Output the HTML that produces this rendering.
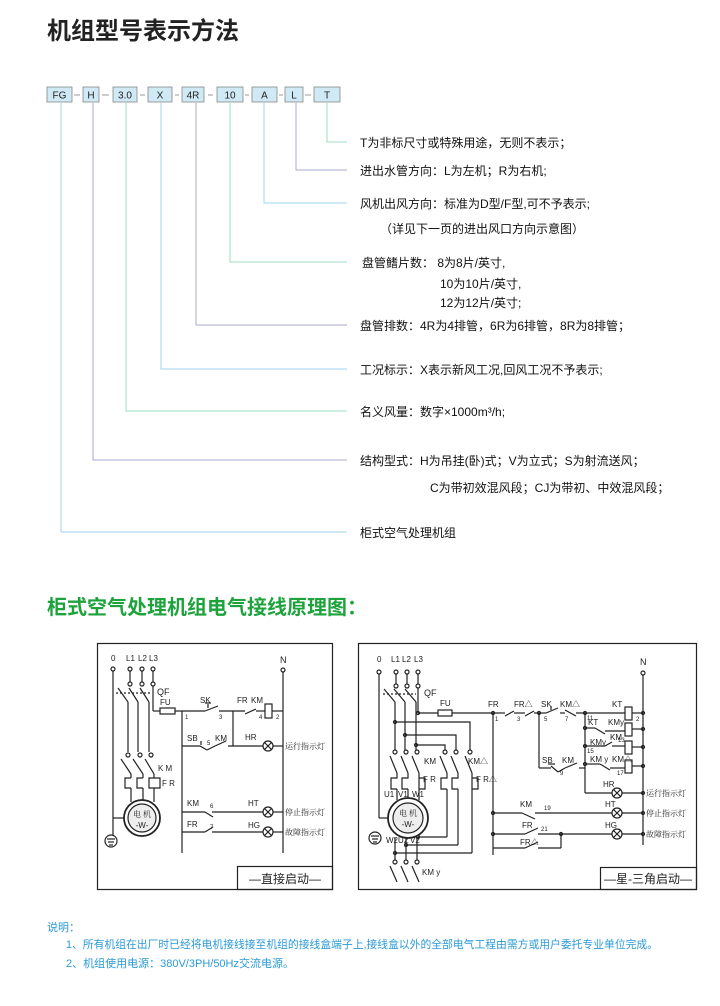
<!DOCTYPE html>
<html><head><meta charset="utf-8"><style>
html,body{margin:0;padding:0;background:#fff;width:720px;height:1006px;overflow:hidden}
svg{display:block}
text{font-family:"Liberation Sans","Noto Sans CJK SC",sans-serif}
.d line,.d polyline,.d rect,.d circle,.d path{stroke:#222;stroke-width:1.2;fill:none}
.d text{fill:#222;font-size:8px}
.d .dot{fill:#222}
.cn{font-family:"Noto Serif CJK SC",serif;font-size:8px}
</style></head><body>
<svg width="720" height="1006" viewBox="0 0 720 1006" xmlns="http://www.w3.org/2000/svg">
<text x="47" y="39" font-size="24" font-weight="bold" fill="#222">机组型号表示方法</text>

<g font-size="10" fill="#222" text-anchor="middle">
<rect x="47" y="87" width="25" height="15" fill="#cfe9f5" stroke="#888" stroke-width="0.8"/><text x="59.5" y="98.5">FG</text>
<rect x="83" y="87" width="16" height="15" fill="#cfe9f5" stroke="#888" stroke-width="0.8"/><text x="91" y="98.5">H</text>
<rect x="113" y="87" width="24" height="15" fill="#cfe9f5" stroke="#888" stroke-width="0.8"/><text x="125" y="98.5">3.0</text>
<rect x="148" y="87" width="24" height="15" fill="#cfe9f5" stroke="#888" stroke-width="0.8"/><text x="160" y="98.5">X</text>
<rect x="182" y="87" width="22" height="15" fill="#cfe9f5" stroke="#888" stroke-width="0.8"/><text x="193" y="98.5">4R</text>
<rect x="217" y="87" width="26" height="15" fill="#cfe9f5" stroke="#888" stroke-width="0.8"/><text x="230" y="98.5">10</text>
<rect x="252" y="87" width="25" height="15" fill="#cfe9f5" stroke="#888" stroke-width="0.8"/><text x="264.5" y="98.5">A</text>
<rect x="285" y="87" width="18" height="15" fill="#cfe9f5" stroke="#888" stroke-width="0.8"/><text x="294" y="98.5">L</text>
<rect x="314" y="87" width="26" height="15" fill="#cfe9f5" stroke="#888" stroke-width="0.8"/><text x="327" y="98.5">T</text>
</g>
<g stroke="#999" stroke-width="1">
<line x1="74" y1="95" x2="80" y2="95"/><line x1="102" y1="95" x2="109" y2="95"/><line x1="140" y1="95" x2="145" y2="95"/><line x1="175" y1="95" x2="179" y2="95"/><line x1="208" y1="95" x2="213" y2="95"/><line x1="245" y1="95" x2="249" y2="95"/><line x1="279" y1="95" x2="283" y2="95"/><line x1="305" y1="95" x2="311" y2="95"/>
</g>
<g fill="none" stroke-width="1">
<polyline points="61,103 61,532 347,532" stroke="#9fd6ee"/>
<polyline points="93,103 93,460 347,460" stroke="#a9a9d2"/>
<polyline points="126,103 126,411 347,411" stroke="#9edcc2"/>
<polyline points="161,103 161,369 347,369" stroke="#9fd6ee"/>
<polyline points="196,103 196,325 347,325" stroke="#a9a9d2"/>
<polyline points="230,103 230,262 347,262" stroke="#9edcc2"/>
<polyline points="264,103 264,203 347,203" stroke="#9fd6ee"/>
<polyline points="296,103 296,170 347,170" stroke="#a9a9d2"/>
<polyline points="327,103 327,142 347,142" stroke="#9edcc2"/>
</g>
<g font-size="12" fill="#111">
<text x="360" y="147">T为非标尺寸或特殊用途，无则不表示；</text>
<text x="360" y="175">进出水管方向：L为左机；R为右机;</text>
<text x="360" y="208">风机出风方向：标准为D型/F型,可不予表示;</text>
<text x="380" y="233">（详见下一页的进出风口方向示意图）</text>
<text x="362" y="267">盘管鳍片数： 8为8片/英寸,</text>
<text x="440" y="288">10为10片/英寸,</text>
<text x="440" y="307">12为12片/英寸;</text>
<text x="360" y="330">盘管排数：4R为4排管，6R为6排管，8R为8排管；</text>
<text x="360" y="374">工况标示：X表示新风工况,回风工况不予表示;</text>
<text x="360" y="416">名义风量：数字×1000m³/h;</text>
<text x="360" y="465">结构型式：H为吊挂(卧)式；V为立式；S为射流送风；</text>
<text x="430" y="492">C为带初效混风段；CJ为带初、中效混风段；</text>
<text x="360" y="537">柜式空气处理机组</text>
</g>

<text x="47" y="614" font-size="20" font-weight="bold" fill="#1ea23c">柜式空气处理机组电气接线原理图：</text>

<!-- LEFT DIAGRAM -->
<g class="d">
<rect x="97.5" y="643.5" width="235" height="246" stroke="#555"/>
<rect x="237.5" y="866.5" width="95" height="23" stroke="#555"/>
<text x="285" y="883" text-anchor="middle" style="font-size:12px;fill:#222">—直接启动—</text>
<text x="111" y="661">0</text><text x="126" y="661">L1</text><text x="138" y="661">L2</text><text x="149" y="661">L3</text>
<text x="280" y="663" style="font-size:9px">N</text>
<circle cx="113" cy="669" r="2"/><circle cx="130" cy="669" r="2"/><circle cx="142" cy="669" r="2"/><circle cx="153" cy="669" r="2"/>
<circle cx="130" cy="684" r="2"/><circle cx="142" cy="684" r="2"/><circle cx="153" cy="684" r="2"/>
<circle cx="283" cy="670" r="2"/>
<line x1="130" y1="671" x2="130" y2="682"/><line x1="142" y1="671" x2="142" y2="682"/><line x1="153" y1="671" x2="153" y2="682"/>
<text x="157" y="695" style="font-size:9px">QF</text>
<line x1="113" y1="671" x2="113" y2="835"/>
<line x1="113" y1="818" x2="124" y2="818"/>
<circle cx="111" cy="841" r="6"/><line x1="107" y1="839" x2="115" y2="839"/><line x1="108" y1="842" x2="114" y2="842"/><line x1="109" y1="845" x2="113" y2="845"/>
<line x1="118" y1="688" x2="128" y2="702"/><line x1="129" y1="688" x2="138" y2="702"/><line x1="140" y1="688" x2="149" y2="702"/>
<line x1="116" y1="693" x2="150" y2="693" stroke-dasharray="2,2"/>
<line x1="128" y1="702" x2="128" y2="752"/><line x1="138" y1="702" x2="138" y2="752"/><line x1="149" y1="702" x2="149" y2="752"/>
<circle cx="128" cy="755" r="2"/><circle cx="140" cy="755" r="2"/><circle cx="151" cy="755" r="2"/>
<line x1="121" y1="759" x2="131" y2="774"/><line x1="133" y1="759" x2="143" y2="774"/><line x1="145" y1="759" x2="154" y2="774"/>
<line x1="131" y1="774" x2="131" y2="778"/><line x1="143" y1="774" x2="143" y2="778"/><line x1="154" y1="774" x2="154" y2="778"/>
<text x="158" y="771">K M</text><text x="162" y="786">F R</text>
<path d="M131 778 H125 V788 H131 M143 778 H137 V788 H143 M154 778 H149 V788 H154 M154 778 H160 V788 H154"/>
<line x1="131" y1="788" x2="131" y2="802"/><line x1="143" y1="788" x2="143" y2="800"/><line x1="154" y1="788" x2="154" y2="802"/>
<circle cx="142" cy="818" r="18" style="stroke-width:1.8"/><circle cx="142" cy="818" r="14" style="fill:#eee"/>
<text x="142" y="817" text-anchor="middle" class="cn">电 机</text><text x="142" y="828" text-anchor="middle">-W-</text>
<line x1="153" y1="686" x2="153" y2="711"/>
<line x1="153" y1="711" x2="160" y2="711"/><rect x="160" y="708" width="15" height="6"/><line x1="175" y1="711" x2="182" y2="711"/>
<text x="160" y="705">FU</text>
<line x1="182" y1="711" x2="182" y2="853"/>
<line x1="182" y1="711" x2="205" y2="711"/><line x1="205" y1="711" x2="218" y2="706"/><line x1="208" y1="704" x2="208" y2="708"/><line x1="205" y1="703" x2="211" y2="703"/>
<line x1="219" y1="711" x2="245" y2="711"/><line x1="245" y1="714" x2="256" y2="709"/><line x1="256" y1="711" x2="265" y2="711"/>
<rect x="265" y="704" width="7" height="14"/><line x1="272" y1="711" x2="283" y2="711"/>
<text x="200" y="703">SK</text><text x="237" y="703">FR</text><text x="251" y="703">KM</text>
<text x="185" y="719" style="font-size:6px">1</text><text x="219" y="719" style="font-size:6px">3</text><text x="259" y="719" style="font-size:6px">4</text><text x="276" y="719" style="font-size:6px">2</text>
<line x1="233" y1="711" x2="233" y2="746"/>
<line x1="182" y1="746" x2="200" y2="746"/><line x1="200" y1="746" x2="207" y2="750"/><line x1="201" y1="741" x2="201" y2="745"/>
<line x1="207" y1="750" x2="215" y2="746"/><line x1="215" y1="746" x2="226" y2="741"/><line x1="228" y1="746" x2="263" y2="746"/>
<text x="187" y="741">SB</text><text x="207" y="745" style="font-size:6px">5</text><text x="215" y="741">KM</text><text x="245" y="740">HR</text>
<g><circle cx="268" cy="746" r="5"/><line x1="264.5" y1="742.5" x2="271.5" y2="749.5"/><line x1="271.5" y1="742.5" x2="264.5" y2="749.5"/></g>
<line x1="273" y1="746" x2="283" y2="746"/><text x="285" y="749" class="cn">运行指示灯</text>
<line x1="182" y1="812" x2="205" y2="812"/><line x1="205" y1="812" x2="213" y2="817"/><line x1="212" y1="812" x2="263" y2="812"/>
<text x="187" y="806">KM</text><text x="210" y="808" style="font-size:6px">6</text><text x="248" y="806">HT</text>
<g><circle cx="268" cy="812" r="5"/><line x1="264.5" y1="808.5" x2="271.5" y2="815.5"/><line x1="271.5" y1="808.5" x2="264.5" y2="815.5"/></g>
<line x1="273" y1="812" x2="283" y2="812"/><text x="285" y="815" class="cn">停止指示灯</text>
<line x1="182" y1="832" x2="205" y2="832"/><line x1="205" y1="832" x2="213" y2="827"/><line x1="212" y1="832" x2="263" y2="832"/>
<text x="187" y="827">FR</text><text x="210" y="829" style="font-size:6px">7</text><text x="248" y="828">HG</text>
<g><circle cx="268" cy="832" r="5"/><line x1="264.5" y1="828.5" x2="271.5" y2="835.5"/><line x1="271.5" y1="828.5" x2="264.5" y2="835.5"/></g>
<line x1="273" y1="832" x2="283" y2="832"/><text x="285" y="835" class="cn">故障指示灯</text>
<line x1="283" y1="672" x2="283" y2="853"/>
</g>

<!-- RIGHT DIAGRAM -->
<g class="d">
<rect x="358.5" y="643.5" width="338" height="246" stroke="#555"/>
<rect x="600.5" y="867.5" width="96" height="22" stroke="#555"/>
<text x="648" y="883" text-anchor="middle" style="font-size:12px;fill:#222">—星-三角启动—</text>
<text x="377" y="662">0</text><text x="391" y="662">L1</text><text x="402" y="662">L2</text><text x="414" y="662">L3</text>
<text x="640" y="665" style="font-size:9px">N</text>
<circle cx="379" cy="672" r="2"/><circle cx="396" cy="672" r="2"/><circle cx="407" cy="672" r="2"/><circle cx="418" cy="672" r="2"/>
<circle cx="396" cy="686" r="2"/><circle cx="407" cy="686" r="2"/><circle cx="418" cy="686" r="2"/>
<line x1="396" y1="674" x2="396" y2="684"/><line x1="407" y1="674" x2="407" y2="684"/><line x1="418" y1="674" x2="418" y2="684"/>
<circle cx="643" cy="673" r="2"/>
<text x="424" y="696" style="font-size:9px">QF</text>
<line x1="379" y1="674" x2="379" y2="818"/><line x1="379" y1="818" x2="388" y2="818"/>
<circle cx="375" cy="838" r="6"/><line x1="371" y1="836" x2="379" y2="836"/><line x1="372" y1="839" x2="378" y2="839"/><line x1="373" y1="842" x2="377" y2="842"/>
<line x1="384" y1="689" x2="395" y2="702"/><line x1="394" y1="689" x2="405" y2="702"/><line x1="405" y1="689" x2="416" y2="702"/>
<line x1="383" y1="694" x2="416" y2="694" stroke-dasharray="2,2"/>
<line x1="395" y1="702" x2="395" y2="750"/><line x1="405" y1="702" x2="405" y2="750"/><line x1="416" y1="702" x2="416" y2="750"/>
<polyline points="395,722 470,722 470,750"/><polyline points="405,735 456,735 456,750"/><polyline points="416,745 445,745 445,750"/>
<circle cx="395" cy="752" r="2"/><circle cx="406" cy="752" r="2"/><circle cx="417" cy="752" r="2"/>
<circle cx="445" cy="752" r="2"/><circle cx="456" cy="752" r="2"/><circle cx="470" cy="752" r="2"/>
<line x1="390" y1="756" x2="397" y2="773"/><line x1="401" y1="756" x2="408" y2="773"/><line x1="412" y1="756" x2="419" y2="773"/>
<line x1="440" y1="756" x2="447" y2="773"/><line x1="451" y1="756" x2="458" y2="773"/><line x1="465" y1="756" x2="472" y2="773"/>
<text x="424" y="764">KM</text><text x="468" y="764">KM△</text>
<text x="423" y="782">F R</text><text x="476" y="782">F R△</text>
<path d="M397 773 V778 H391 V789 H397 M408 773 V778 H402 V789 H408 M419 773 V778 H425 V789 H419 V778"/>
<path d="M447 773 V778 H441 V789 H447 M458 773 V778 H452 V789 H458 M472 773 V778 H478 V789 H472 V778"/>
<line x1="397" y1="789" x2="397" y2="800"/><line x1="408" y1="789" x2="408" y2="798"/><line x1="419" y1="789" x2="419" y2="800"/>
<text x="384" y="797">U1</text><text x="398" y="797">V1</text><text x="412" y="797">W1</text>
<circle cx="408" cy="818" r="20" style="stroke-width:1.8"/><circle cx="408" cy="818" r="15" style="fill:#eee"/>
<text x="408" y="816" text-anchor="middle" class="cn">电 机</text><text x="408" y="827" text-anchor="middle">-W-</text>
<text x="386" y="843">W2</text><text x="398" y="843">U2</text><text x="410" y="843">V2</text>
<line x1="447" y1="789" x2="447" y2="837"/><line x1="447" y1="837" x2="418" y2="837"/>
<line x1="458" y1="789" x2="458" y2="845"/><line x1="458" y1="845" x2="406" y2="845"/>
<line x1="472" y1="789" x2="472" y2="853"/><line x1="472" y1="853" x2="395" y2="853"/>
<line x1="395" y1="838" x2="395" y2="860"/><line x1="406" y1="838" x2="406" y2="860"/><line x1="417" y1="838" x2="417" y2="860"/>
<circle cx="395" cy="862" r="2"/><circle cx="406" cy="862" r="2"/><circle cx="417" cy="862" r="2"/>
<line x1="390" y1="866" x2="397" y2="882"/><line x1="401" y1="866" x2="408" y2="882"/><line x1="412" y1="866" x2="419" y2="882"/>
<text x="422" y="875">KM y</text>
<line x1="418" y1="688" x2="418" y2="713"/>
<line x1="418" y1="713" x2="438" y2="713"/><rect x="438" y="710" width="14" height="6"/><line x1="452" y1="713" x2="493" y2="713"/>
<text x="440" y="706">FU</text>
<line x1="493" y1="713" x2="493" y2="855"/>
<line x1="493" y1="713" x2="505" y2="713"/><line x1="505" y1="716" x2="514" y2="711"/><line x1="514" y1="713" x2="525" y2="713"/>
<line x1="525" y1="716" x2="534" y2="711"/><line x1="534" y1="713" x2="546" y2="713"/>
<line x1="546" y1="713" x2="558" y2="708"/><line x1="551" y1="706" x2="551" y2="710"/>
<line x1="560" y1="713" x2="565" y2="713"/><line x1="565" y1="710" x2="576" y2="716"/><line x1="576" y1="713" x2="625" y2="713"/>
<rect x="625" y="707" width="7" height="13"/><line x1="632" y1="713" x2="643" y2="713"/>
<text x="488" y="707">FR</text><text x="514" y="707">FR△</text><text x="541" y="707">SK</text><text x="560" y="707">KM△</text><text x="612" y="707">KT</text>
<text x="495" y="721" style="font-size:6px">1</text><text x="517" y="721" style="font-size:6px">3</text><text x="544" y="721" style="font-size:6px">5</text><text x="565" y="721" style="font-size:6px">7</text><text x="587" y="720" style="font-size:6px">11</text><text x="636" y="721" style="font-size:6px">2</text>
<line x1="539" y1="713" x2="539" y2="768"/>
<line x1="539" y1="768" x2="551" y2="768"/><line x1="551" y1="766" x2="558" y2="772"/><line x1="548" y1="764" x2="555" y2="764"/>
<line x1="558" y1="772" x2="565" y2="768"/><line x1="565" y1="768" x2="577" y2="763"/><line x1="579" y1="768" x2="585" y2="768"/>
<text x="542" y="763">SB</text><text x="562" y="763">KM</text><text x="560" y="775" style="font-size:6px">9</text>
<line x1="585" y1="713" x2="585" y2="793"/>
<line x1="585" y1="728" x2="595" y2="728"/><line x1="595" y1="728" x2="605" y2="734"/><line x1="605" y1="731" x2="625" y2="731"/>
<rect x="625" y="723" width="7" height="13"/><line x1="632" y1="729" x2="643" y2="729"/>
<text x="588" y="725">KT</text><text x="608" y="725">KMy</text><text x="618" y="742" style="font-size:6px">13</text>
<line x1="585" y1="746" x2="605" y2="746"/><line x1="605" y1="746" x2="612" y2="742"/><line x1="612" y1="746" x2="625" y2="746"/>
<rect x="625" y="741" width="7" height="13"/><line x1="632" y1="747" x2="643" y2="747"/>
<text x="590" y="745">KMy</text><text x="610" y="740">KM</text><text x="587" y="753" style="font-size:6px">15</text>
<line x1="585" y1="764" x2="600" y2="764"/><line x1="600" y1="764" x2="610" y2="770"/><line x1="610" y1="768" x2="625" y2="768"/>
<rect x="625" y="760" width="7" height="13"/><line x1="632" y1="766" x2="643" y2="766"/>
<text x="590" y="762">KM y</text><text x="612" y="762">KM△</text><text x="617" y="775" style="font-size:6px">17</text>
<line x1="585" y1="793" x2="612" y2="793"/>
<g><circle cx="617" cy="793" r="5"/><line x1="613.5" y1="789.5" x2="620.5" y2="796.5"/><line x1="620.5" y1="789.5" x2="613.5" y2="796.5"/></g>
<line x1="622" y1="793" x2="643" y2="793"/><text x="603" y="787">HR</text><text x="646" y="796" class="cn">运行指示灯</text>
<line x1="493" y1="813" x2="522" y2="813"/><line x1="522" y1="813" x2="535" y2="819"/><line x1="535" y1="813" x2="612" y2="813"/>
<g><circle cx="617" cy="813" r="5"/><line x1="613.5" y1="809.5" x2="620.5" y2="816.5"/><line x1="620.5" y1="809.5" x2="613.5" y2="816.5"/></g>
<line x1="622" y1="813" x2="643" y2="813"/><text x="520" y="807">KM</text><text x="544" y="810" style="font-size:6px">19</text><text x="605" y="807">HT</text><text x="646" y="816" class="cn">停止指示灯</text>
<line x1="493" y1="834" x2="525" y2="834"/><line x1="525" y1="834" x2="538" y2="828"/><line x1="538" y1="834" x2="612" y2="834"/>
<g><circle cx="617" cy="834" r="5"/><line x1="613.5" y1="830.5" x2="620.5" y2="837.5"/><line x1="620.5" y1="830.5" x2="613.5" y2="837.5"/></g>
<line x1="622" y1="834" x2="643" y2="834"/><text x="522" y="828">FR</text><text x="541" y="831" style="font-size:6px">21</text><text x="605" y="828">HG</text><text x="646" y="837" class="cn">故障指示灯</text>
<line x1="493" y1="848" x2="525" y2="848"/><line x1="525" y1="848" x2="538" y2="842"/><line x1="538" y1="848" x2="561" y2="848"/><line x1="561" y1="848" x2="561" y2="834"/>
<text x="520" y="845">FR△</text>
<line x1="643" y1="675" x2="643" y2="845"/>
<g class="dot"><circle cx="493" cy="713" r="1.5"/><circle cx="585" cy="713" r="1.5"/><circle cx="539" cy="713" r="1.5"/><circle cx="585" cy="728" r="1.5"/><circle cx="585" cy="746" r="1.5"/><circle cx="585" cy="764" r="1.5"/><circle cx="643" cy="713" r="1.5"/><circle cx="643" cy="729" r="1.5"/><circle cx="643" cy="747" r="1.5"/><circle cx="643" cy="766" r="1.5"/><circle cx="643" cy="793" r="1.5"/><circle cx="643" cy="813" r="1.5"/><circle cx="643" cy="834" r="1.5"/><circle cx="493" cy="813" r="1.5"/><circle cx="493" cy="834" r="1.5"/><circle cx="561" cy="834" r="1.5"/><circle cx="395" cy="722" r="1.5"/><circle cx="405" cy="735" r="1.5"/><circle cx="416" cy="745" r="1.5"/><circle cx="418" cy="713" r="1.5"/><circle cx="395" cy="853" r="1.5"/><circle cx="406" cy="845" r="1.5"/><circle cx="418" cy="837" r="1.5"/></g>
</g>

<g fill="#2a9ad8" font-size="11">
<text x="47" y="931">说明：</text>
<text x="66" y="948" textLength="592" lengthAdjust="spacingAndGlyphs">1、所有机组在出厂时已经将电机接线接至机组的接线盒端子上,接线盒以外的全部电气工程由需方或用户委托专业单位完成。</text>
<text x="66" y="967">2、机组使用电源：380V/3PH/50Hz交流电源。</text>
</g>
</svg>
</body></html>
